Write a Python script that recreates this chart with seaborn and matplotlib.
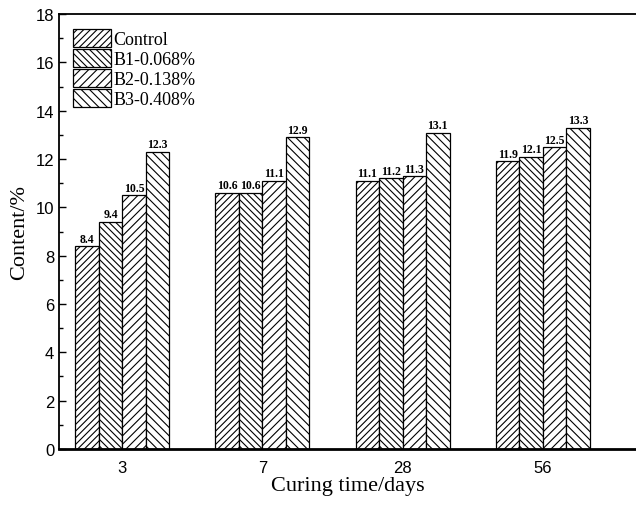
import matplotlib
matplotlib.use("Agg")
import matplotlib.pyplot as plt
import seaborn as sns
import pandas as pd
from matplotlib.patches import Patch
from matplotlib.ticker import MultipleLocator

# data
days = ["3", "7", "28", "56"]
groups = ["Control", "B1-0.068%", "B2-0.138%", "B3-0.408%"]
control = [8.4, 10.6, 11.1, 11.9]
b1 = [9.4, 10.6, 11.2, 12.1]
b2 = [10.5, 11.1, 11.3, 12.5]
b3 = [12.3, 12.9, 13.1, 13.3]
hatches = ["/////", "\\\\\\\\\\", "////", "\\\\\\\\"]

rows = []
for g, vals in zip(groups, [control, b1, b2, b3]):
    for d, v in zip(days, vals):
        rows.append({"day": d, "group": g, "value": v})
df = pd.DataFrame(rows)

sns.set_style("ticks", {"axes.edgecolor": "black", "text.color": "black",
                        "xtick.color": "black", "ytick.color": "black",
                        "axes.labelcolor": "black"})
plt.rcParams["hatch.linewidth"] = 0.8
plt.rcParams["hatch.color"] = "black"

fig = plt.figure(figsize=(6.36, 5.06), dpi=100)
ax = fig.add_axes([0.093, 0.111, 0.907, 0.859])

sns.barplot(data=df, x="day", y="value", hue="group", order=days,
            hue_order=groups, width=0.67, ax=ax, legend=False,
            errorbar=None, color="white", saturation=1)

for cont, h in zip(ax.containers, hatches):
    for p in cont:
        p.set_facecolor("white")
        p.set_edgecolor("black")
        p.set_linewidth(0.9)
        p.set_hatch(h)
    ax.bar_label(cont, fmt="%.1f", fontsize=8.5, fontweight="bold",
                 family="Liberation Serif", padding=1)

ax.set_xlim(-0.45, 3.665)
ax.set_ylim(0, 18)
ax.yaxis.set_major_locator(MultipleLocator(2))
ax.yaxis.set_minor_locator(MultipleLocator(1))
ax.tick_params(axis="y", which="both", direction="in", left=True, width=1)
ax.tick_params(axis="y", which="major", length=5)
ax.tick_params(axis="y", which="minor", length=3)
ax.tick_params(axis="x", length=0, pad=8)
for lab in ax.get_xticklabels() + ax.get_yticklabels():
    lab.set_family("Liberation Sans")
    lab.set_fontsize(12)

ax.spines["right"].set_visible(False)
ax.spines["left"].set_linewidth(1.3)
ax.spines["top"].set_linewidth(1.3)
ax.spines["bottom"].set_linewidth(2)

ax.set_xlabel("Curing time/days", family="Liberation Serif", fontsize=16, labelpad=1)
ax.set_ylabel("Content/%", family="Liberation Serif", fontsize=16, labelpad=5)

handles = [Patch(facecolor="white", edgecolor="black", hatch=h, linewidth=0.9)
           for h in hatches]
ax.legend(handles, groups, loc="upper left", bbox_to_anchor=(0.002, 0.995),
          prop={"family": "Liberation Serif", "size": 13},
          frameon=False, handlelength=2.1, handleheight=1.15,
          handletextpad=0.15, labelspacing=0.05, borderaxespad=0.3)

fig.savefig("out.png", dpi=100)
